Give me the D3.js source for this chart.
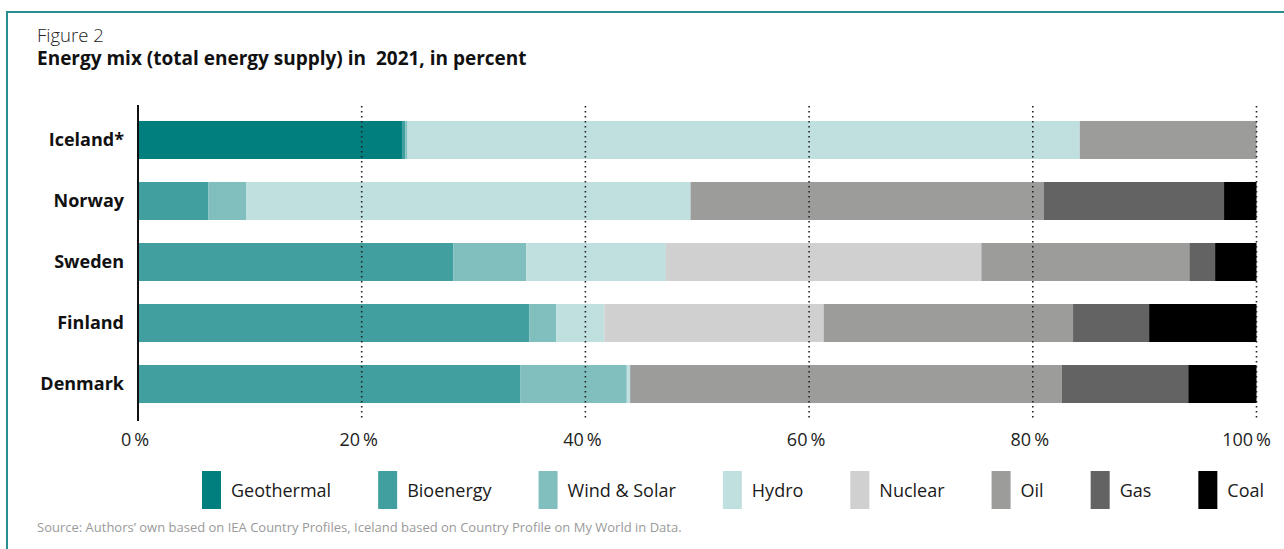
<!DOCTYPE html>
<html>
<head>
<meta charset="utf-8">
<script src="https://cdn.jsdelivr.net/npm/d3@7"></script>
<style>
  html, body { margin: 0; padding: 0; background: #fff; }
  svg { display: block; font-family: "Open Sans", "Noto Sans", sans-serif; }
</style>
</head>
<body>
<div id="chart"></div>
<script>
// Energy mix 2021, share of total energy supply (percent)
const countries = ['Iceland*', 'Norway', 'Sweden', 'Finland', 'Denmark'];
const sources = ['Geothermal', 'Bioenergy', 'Wind & Solar', 'Hydro', 'Nuclear', 'Oil', 'Gas', 'Coal'];
const sourceColors = ['#007f7e', '#429f9f', '#81bfbf', '#c0e0df', '#d0d0d0', '#9c9c9b', '#636363', '#000000'];

// one array per source, in the order of countries
const geothermal = [23.6, 0, 0, 0, 0];
const bioenergy = [0.3, 6.3, 28.2, 35.0, 34.2];
const windSolar = [0.2, 3.4, 6.5, 2.4, 9.5];
const hydro = [60.1, 39.7, 12.5, 4.3, 0.3];
const nuclear = [0, 0, 28.2, 19.6, 0];
const oil = [15.8, 31.6, 18.6, 22.3, 38.6];
const gas = [0, 16.1, 2.3, 6.8, 11.3];
const coal = [0, 2.9, 3.7, 9.6, 6.1];

const xTicks = [0, 20, 40, 60, 80, 100];

const width = 1284, height = 549;

const table = countries.map((c, i) => ({
  country: c,
  'Geothermal': geothermal[i],
  'Bioenergy': bioenergy[i],
  'Wind & Solar': windSolar[i],
  'Hydro': hydro[i],
  'Nuclear': nuclear[i],
  'Oil': oil[i],
  'Gas': gas[i],
  'Coal': coal[i]
}));

const svg = d3.select('#chart').append('svg')
  .attr('width', width)
  .attr('height', height);

// frame
svg.append('path')
  .attr('d', `M7,${height + 5}V12H${width + 5}`)
  .attr('fill', 'none')
  .attr('stroke', '#2b8e8e')
  .attr('stroke-width', 2);

// titles
svg.append('text')
  .attr('x', 37).attr('y', 42)
  .attr('font-size', 18.5).attr('font-weight', 300)
  .attr('fill', '#222')
  .text('Figure 2');

svg.append('text')
  .attr('x', 37).attr('y', 65)
  .attr('font-size', 19).attr('font-weight', 700)
  .attr('fill', '#111')
  .style('white-space', 'pre')
  .text('Energy mix (total energy supply) in  2021, in percent');

const x = d3.scaleLinear().domain([0, 100]).range([138, 1256.5]);
const y = d3.scaleBand().domain(countries).range([110, 414])
  .paddingInner(0.377).paddingOuter(0.18);
const color = d3.scaleOrdinal().domain(sources).range(sourceColors);

const stacked = d3.stack().keys(sources)(table);

// bars
svg.append('g')
  .selectAll('g')
  .data(stacked)
  .join('g')
  .attr('fill', d => color(d.key))
  .selectAll('rect')
  .data(d => d)
  .join('rect')
  .attr('x', d => x(d[0]))
  .attr('y', d => y(d.data.country))
  .attr('width', d => Math.max(0, x(d[1]) - x(d[0])))
  .attr('height', y.bandwidth());

// dotted gridlines (drawn over bars)
svg.append('g')
  .selectAll('line')
  .data(xTicks.filter(d => d > 0))
  .join('line')
  .attr('x1', d => x(d)).attr('x2', d => x(d))
  .attr('y1', 106).attr('y2', 421)
  .attr('stroke', '#222')
  .attr('stroke-width', 1.6)
  .attr('stroke-dasharray', '1.6,3.4');

// vertical axis line
svg.append('line')
  .attr('x1', x(0)).attr('x2', x(0))
  .attr('y1', 105).attr('y2', 421)
  .attr('stroke', '#111')
  .attr('stroke-width', 2);

// x tick labels
svg.append('g')
  .selectAll('text')
  .data(xTicks)
  .join('text')
  .attr('x', d => x(d) - (d === 100 ? 10 : 3))
  .attr('y', 446)
  .attr('text-anchor', 'middle')
  .attr('font-size', 18)
  .attr('fill', '#222')
  .text(d => d + '\u2009%');

// country labels
svg.append('g')
  .selectAll('text')
  .data(countries)
  .join('text')
  .attr('x', 124)
  .attr('y', d => y(d) + y.bandwidth() / 2)
  .attr('dy', '0.35em')
  .attr('text-anchor', 'end')
  .attr('font-size', 18)
  .attr('font-weight', 700)
  .attr('fill', '#111')
  .text(d => d);

// legend, laid out from measured label widths
const legend = svg.append('g');
let lx = 202;
sources.forEach(s => {
  legend.append('rect')
    .attr('x', lx).attr('y', 471)
    .attr('width', 19).attr('height', 38)
    .attr('fill', color(s));
  const t = legend.append('text')
    .attr('x', lx + 29).attr('y', 497)
    .attr('font-size', 18)
    .attr('fill', '#1a1a1a')
    .text(s);
  lx += 29 + t.node().getComputedTextLength() + 47;
});

// source note
svg.append('text')
  .attr('x', 37).attr('y', 532)
  .attr('font-size', 13)
  .attr('fill', '#9a9a9a')
  .text('Source: Authors\u2019 own based on IEA Country Profiles, Iceland based on Country Profile on My World in Data.');
</script>
</body>
</html>
